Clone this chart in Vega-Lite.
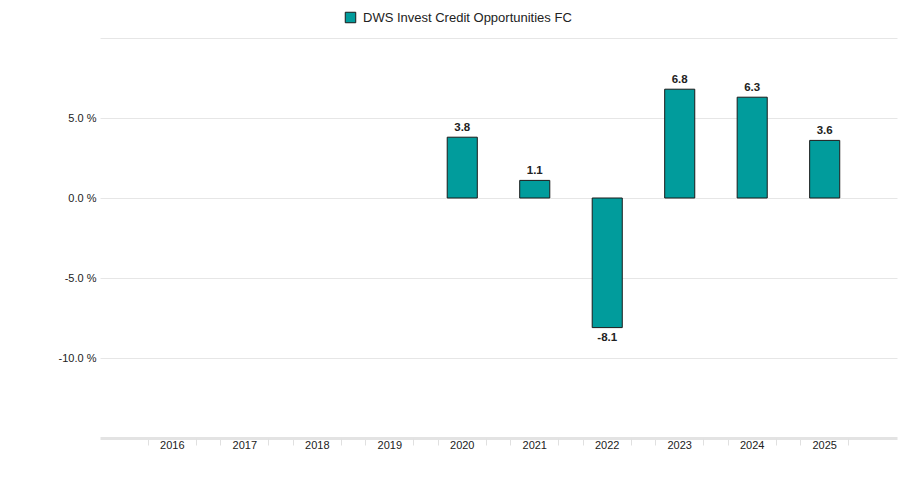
{
  "$schema": "https://vega.github.io/schema/vega-lite/v6.json",
  "autosize": {"type": "none"},
  "width": 797,
  "height": 400,
  "padding": {"left": 100, "top": 38, "right": 2, "bottom": 39},
  "background": "white",
  "config": {
    "view": {"stroke": null},
    "font": "Liberation Sans"
  },
  "data": {
    "values": [
      {"year": "2020", "value": 3.8, "fund": "DWS Invest Credit Opportunities FC"},
      {"year": "2021", "value": 1.1, "fund": "DWS Invest Credit Opportunities FC"},
      {"year": "2022", "value": -8.1, "fund": "DWS Invest Credit Opportunities FC"},
      {"year": "2023", "value": 6.8, "fund": "DWS Invest Credit Opportunities FC"},
      {"year": "2024", "value": 6.3, "fund": "DWS Invest Credit Opportunities FC"},
      {"year": "2025", "value": 3.6, "fund": "DWS Invest Credit Opportunities FC"}
    ]
  },
  "encoding": {
    "x": {
      "field": "year",
      "type": "nominal",
      "sort": null,
      "scale": {
        "domain": ["2016", "2017", "2018", "2019", "2020", "2021", "2022", "2023", "2024", "2025"],
        "paddingInner": 0.585,
        "paddingOuter": 0.79
      },
      "axis": {
        "title": null,
        "orient": "bottom",
        "labelAngle": 0,
        "labelFontSize": 11,
        "labelColor": "#222222",
        "labelPadding": -6,
        "domainColor": "#e3e3e3",
        "domainWidth": 3,
        "ticks": true,
        "tickColor": "#e0e0e0",
        "tickSize": 7,
        "tickWidth": 1,
        "bandPosition": -0.3,
        "grid": false
      }
    },
    "y": {
      "field": "value",
      "type": "quantitative",
      "scale": {"domain": [-15, 10], "nice": false, "zero": false},
      "axis": {
        "title": null,
        "values": [-10, -5, 0, 5, 10],
        "labelExpr": "datum.value >= 10 ? '' : replace(format(datum.value, '.1f'), '\u2212', '-') + ' %'",
        "labelFontSize": 11,
        "labelColor": "#222222",
        "labelPadding": 4,
        "domain": false,
        "ticks": false,
        "grid": true,
        "gridColor": "#e6e6e6",
        "gridWidth": 1
      }
    }
  },
  "resolve": {"axis": {"x": "independent"}},
  "layer": [
    {
      "mark": {"type": "bar", "stroke": "#1a1a1a", "strokeWidth": 1},
      "encoding": {
        "color": {
          "field": "fund",
          "type": "nominal",
          "scale": {"range": ["#019c9c"]},
          "legend": {
            "title": null,
            "orient": "none",
            "legendX": 244,
            "legendY": -27,
            "symbolType": "square",
            "symbolSize": 110,
            "symbolStrokeColor": "#1a1a1a",
            "symbolStrokeWidth": 1,
            "labelFontSize": 13,
            "labelColor": "#222222",
            "labelOffset": 6,
            "labelLimit": 0
          }
        }
      }
    },
    {
      "transform": [{"filter": "datum.value >= 0"}],
      "mark": {"type": "text", "baseline": "bottom", "dy": -4, "fontSize": 11.5, "color": "#222222", "fontWeight": "bold",
        "text": {"expr": "format(datum.value, '.1f')"}},
      "encoding": {
        "x": {
          "field": "year",
          "type": "nominal",
          "sort": null,
          "axis": {
            "title": null,
            "orient": "bottom",
            "labels": false,
            "domain": false,
            "ticks": true,
            "tickColor": "#e0e0e0",
            "tickSize": 7,
            "tickWidth": 1,
            "bandPosition": 1.3,
            "grid": false
          }
        }
      }
    },
    {
      "transform": [{"filter": "datum.value < 0"}],
      "mark": {"type": "text", "baseline": "top", "dy": 4, "fontSize": 11.5, "color": "#222222", "fontWeight": "bold",
        "text": {"expr": "replace(format(datum.value, '.1f'), '\u2212', '-')"}},
      "encoding": {
        "x": {"field": "year", "type": "nominal", "sort": null, "axis": null}
      }
    }
  ]
}
